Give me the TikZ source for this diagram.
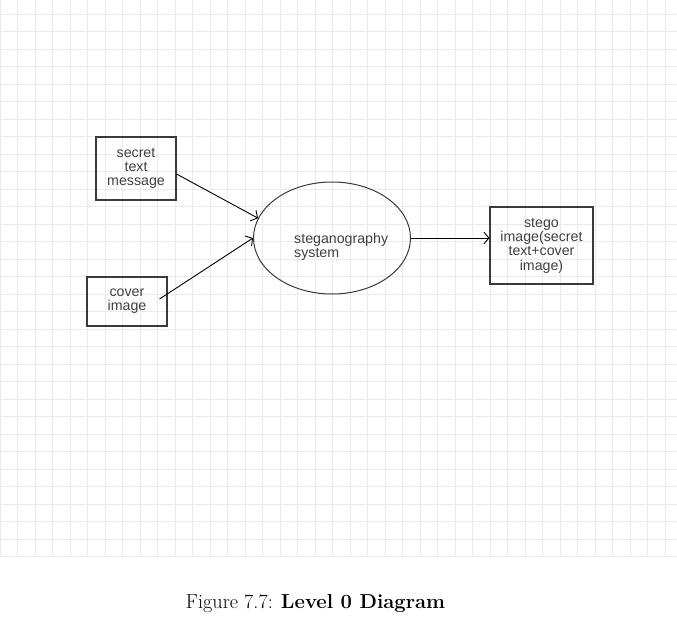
\documentclass[tikz,border=0pt]{standalone}
\usepackage{fontspec}
\newfontfamily\diagfont{Liberation Sans}
\usetikzlibrary{arrows.meta,shapes.geometric}
\definecolor{gridc}{HTML}{EBEBEB}
\definecolor{linec}{HTML}{3A3A3A}
\definecolor{textc}{HTML}{404040}
\begin{document}
\begin{tikzpicture}[x=1pt,y=-1pt,
  box/.style={draw=linec, line width=1.1pt, rectangle, align=center, inner sep=0pt,
    text=textc, font=\diagfont\fontsize{14.2}{14.3}\selectfont},
  oval/.style={draw=linec, line width=1pt, ellipse, inner sep=0pt},
  lbl/.style={text=textc, font=\diagfont\fontsize{14.2}{14.3}\selectfont, align=left, inner sep=0pt},
  flow/.style={draw=black, line width=0.9pt, -{Straight Barb[length=5pt,width=12pt,line width=0.9pt]}}]
\useasboundingbox (0,0) rectangle (677,628);
\fill[white] (0,0) rectangle (677,628);
% grid
\foreach \i in {0,...,38} {\draw[gridc, line width=0.9pt] (17.5*\i,0) -- (17.5*\i,557);}
\foreach \j in {0,...,31} {\draw[gridc, line width=0.9pt] (0,14+17.5*\j) -- (677,14+17.5*\j);}
% nodes
\node[box, minimum width=80pt, minimum height=63pt] (secret) at (136,168.5) {secret\\text\\message};
\node[box, minimum width=80pt, minimum height=49pt] (cover) at (127,301.5) {cover\\image};
\node[oval, minimum width=157pt, minimum height=112pt] (ell) at (332,238) {};
\node[lbl, anchor=west] (elltext) at (294,247) {steganography\\system};
\node[box, minimum width=103pt, minimum height=77pt] (stego) at (541.5,245.5) {stego\\image(secret\\text+cover\\image)};
% connectors
\draw[flow] ([yshift=-5.5pt]secret.east) -- (ell.165);
\draw[flow] ([xshift=-8pt,yshift=2.5pt]cover.east) -- (ell.180);
\draw[flow] (ell.east) -- (ell.east -| stego.west);
% caption
\node[inner sep=0pt, font=\fontsize{20.2}{24}\selectfont] (cap) at (315.5,604) {Figure 7.7: \textbf{Level 0 Diagram}};
\end{tikzpicture}
\end{document}
